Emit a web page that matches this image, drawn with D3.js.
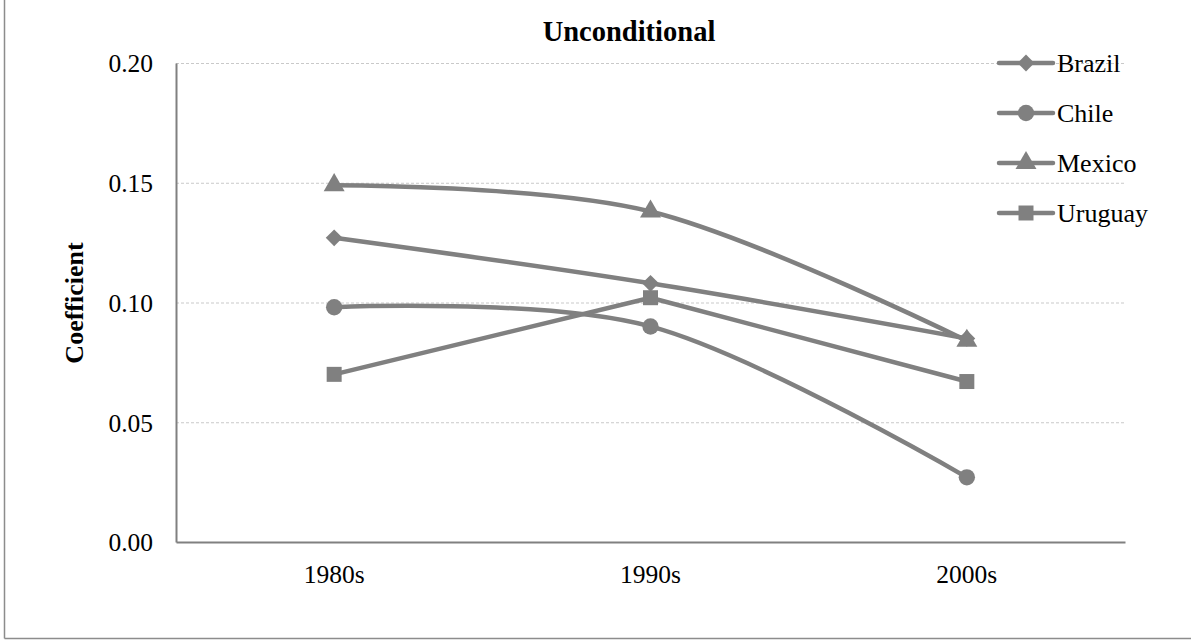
<!DOCTYPE html>
<html>
<head>
<meta charset="utf-8">
<script src="https://cdn.jsdelivr.net/npm/d3@7"></script>
<style>
  html, body { margin: 0; padding: 0; background: #fff; }
  svg { display: block; font-family: "Liberation Serif", "Times New Roman", serif; }
</style>
</head>
<body>
<svg id="chart" width="1191" height="641"></svg>
<script>
// Decades on the horizontal axis
const decades = ["1980s", "1990s", "2000s"];

// Coefficient per decade for each country
const brazil  = [0.127, 0.108, 0.085];
const chile   = [0.098, 0.090, 0.027];
const mexico  = [0.149, 0.138, 0.084];
const uruguay = [0.070, 0.102, 0.067];

const countries = ["Brazil", "Chile", "Mexico", "Uruguay"];
const symbols = [d3.symbolDiamond2, d3.symbolCircle, d3.symbolTriangle, d3.symbolSquare];
const smoothed = [true, true, true, false];
const yTicks = [0, 0.05, 0.10, 0.15, 0.20];

const series = [brazil, chile, mexico, uruguay].map((vals, i) => ({
  name: countries[i],
  symbol: symbols[i],
  smooth: smoothed[i],
  values: vals.map((v, j) => ({ decade: decades[j], value: v }))
}));

const svg = d3.select("#chart");
const grey = "#808080";

const plot = { left: 176, right: 1125, top: 63, bottom: 542 };

const x = d3.scaleBand().domain(decades).range([plot.left, plot.right]);
const y = d3.scaleLinear().domain([0, 0.20]).range([plot.bottom, plot.top]);

// Outer frame (left and bottom edges visible)
svg.append("line").attr("x1", 4.5).attr("x2", 4.5).attr("y1", 0).attr("y2", 638.5)
  .attr("stroke", "#8c8c8c").attr("stroke-width", 1.5);
svg.append("line").attr("x1", 4.5).attr("x2", 1191).attr("y1", 638.5).attr("y2", 638.5)
  .attr("stroke", "#8c8c8c").attr("stroke-width", 1.5);

// Horizontal gridlines
svg.append("g")
  .selectAll("line")
  .data(yTicks.filter(t => t > 0))
  .join("line")
  .attr("x1", plot.left).attr("x2", plot.right)
  .attr("y1", d => y(d) + 0.5).attr("y2", d => y(d) + 0.5)
  .attr("stroke", "#c9c9c9").attr("stroke-width", 1)
  .attr("stroke-dasharray", "3,2");

// Y axis
const yAxis = svg.append("g")
  .attr("transform", `translate(${plot.left},0)`)
  .call(d3.axisLeft(y).tickValues(yTicks).tickFormat(d3.format(".2f")).tickSize(0).tickPadding(23));
yAxis.select(".domain").attr("stroke", grey).attr("stroke-width", 2);
yAxis.selectAll("text").attr("font-size", 25.5).attr("fill", "#000")
  .attr("font-family", "Liberation Serif").attr("dy", "0.35em");

// X axis
const xAxis = svg.append("g")
  .attr("transform", `translate(0,${plot.bottom})`)
  .call(d3.axisBottom(x).tickSize(0).tickPadding(23));
xAxis.select(".domain").attr("stroke", grey).attr("stroke-width", 2);
xAxis.selectAll("text").attr("font-size", 25.5).attr("fill", "#000")
  .attr("font-family", "Liberation Serif");

// Title
svg.append("text")
  .attr("x", 629).attr("y", 41)
  .attr("text-anchor", "middle")
  .attr("font-size", 28.5).attr("font-weight", "bold")
  .text("Unconditional");

// Y axis title
svg.append("text")
  .attr("transform", "translate(83,303) rotate(-90)")
  .attr("text-anchor", "middle")
  .attr("font-size", 26).attr("font-weight", "bold")
  .text("Coefficient");

// Lines (smoothed or straight per series)
const cx = d => x(d.decade) + x.bandwidth() / 2;
const smoothLine = d3.line().x(cx).y(d => y(d.value)).curve(d3.curveCardinal.tension(0));
const straightLine = d3.line().x(cx).y(d => y(d.value));

const gSeries = svg.append("g");
series.forEach(s => {
  gSeries.append("path")
    .datum(s.values)
    .attr("d", s.smooth ? smoothLine : straightLine)
    .attr("fill", "none")
    .attr("stroke", grey)
    .attr("stroke-width", 4.5)
    .attr("stroke-linejoin", "round")
    .attr("stroke-linecap", "round");
});

// Markers
const symbolSize = { Brazil: 180, Chile: 210, Mexico: 190, Uruguay: 225 };
series.forEach(s => {
  gSeries.append("g")
    .selectAll("path")
    .data(s.values)
    .join("path")
    .attr("transform", d => `translate(${cx(d)},${y(d.value)})`)
    .attr("d", d3.symbol().type(s.symbol).size(symbolSize[s.name]))
    .attr("fill", grey);
});

// Legend
const legend = svg.append("g");
const legendY = d3.scalePoint().domain(countries).range([63, 213]);
series.forEach(s => {
  const ly = legendY(s.name);
  legend.append("line")
    .attr("x1", 999).attr("x2", 1053).attr("y1", ly).attr("y2", ly)
    .attr("stroke", grey).attr("stroke-width", 4.5).attr("stroke-linecap", "round");
  legend.append("path")
    .attr("transform", `translate(1026,${ly})`)
    .attr("d", d3.symbol().type(s.symbol).size(symbolSize[s.name]))
    .attr("fill", grey);
  legend.append("text")
    .attr("x", 1057).attr("y", ly).attr("dy", "0.35em")
    .attr("font-size", 26)
    .text(s.name);
});
</script>
</body>
</html>
